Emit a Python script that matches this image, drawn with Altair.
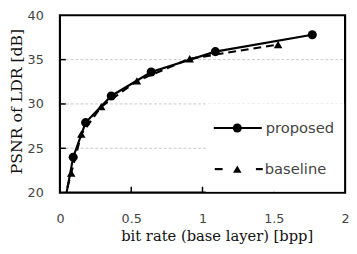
import altair as alt
import pandas as pd

# data
prop_x = [0.035, 0.093, 0.18, 0.36, 0.64, 1.09, 1.77]
prop_y = [19.0, 24.0, 27.9, 30.9, 33.6, 35.9, 37.8]
base_x = [0.03, 0.079, 0.15, 0.29, 0.54, 0.91, 1.53]
base_y = [19.2, 22.2, 26.6, 29.7, 32.6, 35.1, 36.7]
x_ticks = [0, 0.5, 1, 1.5, 2]
y_ticks = [20, 25, 30, 35, 40]
x_inner = [0.5, 1, 1.5]
y_inner = [25, 30, 35]
series = ["proposed", "baseline"]

W, H = 291, 181
TOP = 13  # page y of plot top
tickfont = "DejaVu Sans"
serif = "DejaVu Serif"

prop = pd.DataFrame({"x": prop_x, "y": prop_y})
base = pd.DataFrame({"x": base_x, "y": base_y})

xs = alt.Scale(domain=[0, 2], nice=False)
ys = alt.Scale(domain=[20, 40], nice=False)

xax = alt.Axis(values=x_ticks, ticks=False, domain=False, grid=False, format="~g",
               labelFont=tickfont, labelFontSize=13, labelColor="#444",
               labelPadding=21, labelFlush=False,
               title="bit rate (base layer) [bpp]", titleFont=serif,
               titleFontSize=15, titleFontWeight="normal", titleColor="#111",
               titleX=160, titleY=44, titleBaseline="middle", titleAlign="center")
yax = alt.Axis(values=y_ticks, ticks=False, domain=False, grid=False,
               labelFont=tickfont, labelFontSize=13, labelColor="#444",
               labelPadding=17, labelFlush=False,
               title="PSNR of LDR [dB]", titleFont=serif,
               titleFontSize=16, titleFontWeight="normal", titleColor="#111",
               titleX=-44, titleY=H / 2 - 3, titleBaseline="middle", titleAlign="center",
               titleAngle=-90)

base_chart = alt.Chart(base)
prop_chart = alt.Chart(prop)

grid_layer = alt.Chart(pd.DataFrame({"y": y_inner})).mark_rule(
    color="#c8c8c8", strokeDash=[3, 2], strokeWidth=1).encode(
    y=alt.Y("y:Q", scale=ys, axis=yax),
    x=alt.value(1), x2=alt.value(W - 1),
)

base_line = base_chart.mark_line(color="black", strokeWidth=2.2, strokeDash=[8, 5], clip=True).encode(
    x=alt.X("x:Q", scale=xs, axis=xax), y=alt.Y("y:Q", scale=ys))
base_pts = base_chart.mark_point(shape="triangle-up", filled=True, color="black", size=75, opacity=1, clip=True).encode(
    x=alt.X("x:Q", scale=xs), y=alt.Y("y:Q", scale=ys))
prop_line = prop_chart.mark_line(color="black", strokeWidth=2.2, clip=True).encode(
    x=alt.X("x:Q", scale=xs), y=alt.Y("y:Q", scale=ys))
prop_pts = prop_chart.mark_circle(color="black", size=85, opacity=1, clip=True).encode(
    x=alt.X("x:Q", scale=xs), y=alt.Y("y:Q", scale=ys))

xt = alt.Chart(pd.DataFrame({"x": x_inner})).mark_rule(color="black", strokeWidth=1.5).encode(
    x=alt.X("x:Q", scale=xs), y=alt.value(H), y2=alt.value(H - 6))
yt = alt.Chart(pd.DataFrame({"y": y_inner})).mark_rule(color="black", strokeWidth=1.5).encode(
    y=alt.Y("y:Q", scale=ys), x=alt.value(0), x2=alt.value(6))

# legend (page y -> plot y: subtract TOP)
LY1, LY2 = 128 - TOP, 170 - TOP
one = pd.DataFrame({"a": [0]})
leg_bg = alt.Chart(one).mark_rect(color="white").encode(
    x=alt.value(149), x2=alt.value(290), y=alt.value(103 - TOP), y2=alt.value(H - 1))
leg_df = pd.DataFrame({"name": series})
leg_line1 = alt.Chart(one).mark_rule(color="black", strokeWidth=2.2).encode(
    x=alt.value(157), x2=alt.value(206), y=alt.value(LY1))
leg_pt1 = alt.Chart(one).mark_circle(color="black", size=85, opacity=1).encode(
    x=alt.value(181), y=alt.value(LY1))
leg_d1 = alt.Chart(one).mark_rule(color="black", strokeWidth=2.2).encode(
    x=alt.value(158), x2=alt.value(166), y=alt.value(LY2))
leg_d2 = alt.Chart(one).mark_rule(color="black", strokeWidth=2.2).encode(
    x=alt.value(200), x2=alt.value(207), y=alt.value(LY2))
leg_pt2 = alt.Chart(one).mark_point(shape="triangle-up", filled=True, color="black", size=75, opacity=1).encode(
    x=alt.value(181), y=alt.value(LY2))
leg_txt1 = alt.Chart(leg_df.iloc[[0]]).mark_text(align="left", baseline="middle", font=tickfont, fontSize=15, color="#444").encode(
    x=alt.value(210), y=alt.value(LY1), text="name:N")
leg_txt2 = alt.Chart(leg_df.iloc[[1]]).mark_text(align="left", baseline="middle", font=tickfont, fontSize=15, color="#444").encode(
    x=alt.value(209), y=alt.value(LY2), text="name:N")

chart = alt.layer(
    grid_layer, base_line, prop_line, base_pts, prop_pts, xt, yt,
    leg_bg, leg_line1, leg_pt1, leg_d1, leg_d2, leg_pt2, leg_txt1, leg_txt2,
).properties(
    width=W, height=H,
    autosize=alt.AutoSizeParams(type="none"),
    padding={"left": 53, "top": TOP - 8, "right": 4, "bottom": 50},
).configure(
    background="white",
    view=alt.ViewConfig(stroke="black", strokeWidth=2.2),
)

chart.save("out.html", embed_options={"renderer": "svg", "actions": False})
